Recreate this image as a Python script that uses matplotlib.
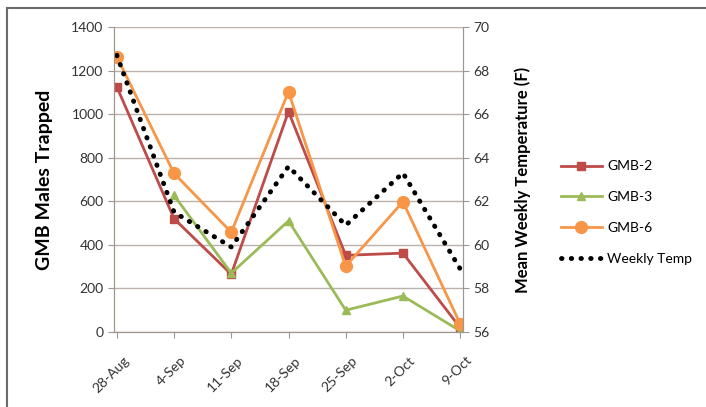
import numpy as np
import matplotlib
matplotlib.use("Agg")
from matplotlib import pyplot as plt
from matplotlib.patches import Rectangle
from matplotlib.transforms import ScaledTranslation

plt.rcParams['font.family'] = ['Lato', 'DejaVu Sans']

# weekly trap counts and temperature
weeks = ['28-Aug', '4-Sep', '11-Sep', '18-Sep', '25-Sep', '2-Oct', '9-Oct']
gmb2 = [1125, 520, 265, 1012, 352, 362, 20]
gmb3 = [np.nan, 627, 270, 510, 100, 165, 5]
gmb6 = [1263, 728, 458, 1103, 302, 598, 38]
temp = [68.7, 61.5, 59.9, 63.6, 60.9, 63.3, 58.9]

red = '#be4b48'
green = '#9bbb59'
orange = '#f79646'
grid_c = '#bcb2ad'
spine_c = '#a09690'
text_c = '#333333'

fig = plt.figure(figsize=(7.06, 4.07), dpi=100)
ax = fig.add_axes([114 / 706, 1 - 332 / 407, (463 - 114) / 706, (332 - 27) / 407])
ax2 = ax.twinx()

x = np.arange(len(weeks))
l1, = ax.plot(x, gmb2, color=red, lw=2, marker='s', ms=6, label='GMB-2', zorder=3)
l2, = ax.plot(x, gmb3, color=green, lw=2, marker='^', ms=6, label='GMB-3', zorder=3)
l3, = ax.plot(x, gmb6, color=orange, lw=2, marker='o', ms=8.5, label='GMB-6', zorder=3)
l4, = ax2.plot(x, temp, color='black', lw=3.5, linestyle=(0, (0.1, 1.9)),
               dash_capstyle='round', label='Weekly Temp')

ax.set_xlim(-0.05, 6.05)
ax.set_ylim(0, 1400)
ax.set_yticks(range(0, 1401, 200))
ax2.set_ylim(56, 70)
ax2.set_yticks(range(56, 71, 2))
ax.set_xticks(x)
ax.set_xticklabels(weeks, rotation=45, ha='right', va='center', rotation_mode='anchor')

ax.yaxis.grid(True, color=grid_c, lw=1)
ax.set_axisbelow(True)
for a in (ax, ax2):
    a.spines['top'].set_visible(False)
    for s in ('left', 'right', 'bottom'):
        a.spines[s].set_color(spine_c)
    a.tick_params(colors=spine_c, labelcolor=text_c, labelsize=10, length=4)
ax.tick_params(axis='x', pad=15)
# nudge the slanted date labels to the right of their ticks
shift = ScaledTranslation(0.1, 0, fig.dpi_scale_trans)
for lab in ax.get_xticklabels():
    lab.set_transform(lab.get_transform() + shift)

ax.set_ylabel('GMB Males Trapped', fontsize=14, fontweight='bold', color='black', labelpad=13)
ax2.set_ylabel('Mean Weekly Temperature (F)', fontsize=12, fontweight='bold', color='black', labelpad=18)

fig.legend(handles=[l1, l2, l3, l4], loc='upper left', bbox_to_anchor=(548 / 706, 1 - 148 / 407),
           frameon=False, fontsize=10, handlelength=3.0, labelspacing=1.35, handletextpad=0.35)

# outer chart border
fig.patches.append(Rectangle((7 / 706, -0.1), 1.2, 1 - 8 / 407 + 0.1, transform=fig.transFigure,
                             fill=False, edgecolor='#6e6a68', lw=1.5))

fig.savefig('out.png', dpi=100)
